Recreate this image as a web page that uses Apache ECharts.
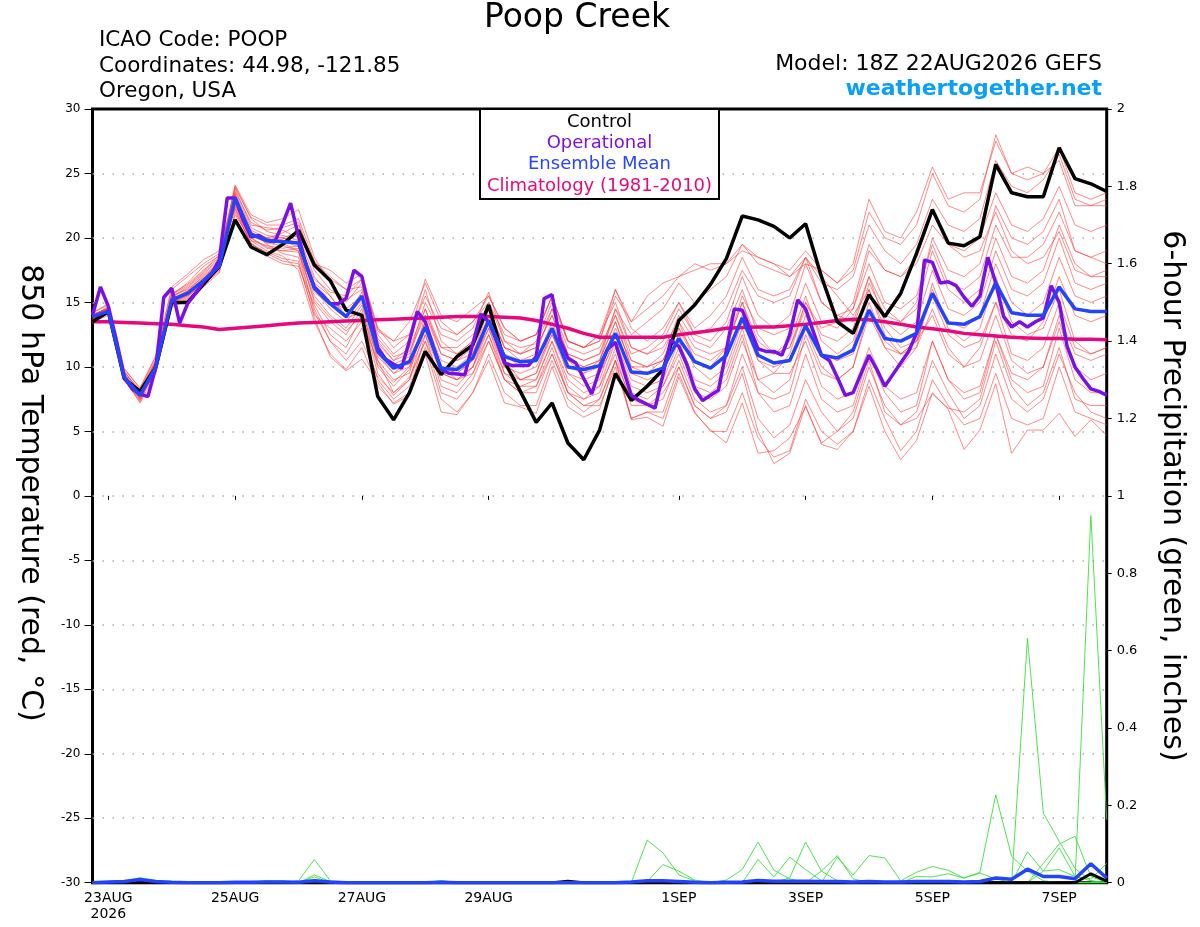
<!DOCTYPE html>
<html><head><meta charset="utf-8">
<script src="https://cdn.jsdelivr.net/npm/echarts@6/dist/echarts.min.js"></script>
<style>html,body{margin:0;padding:0;background:#fff}#c{width:1200px;height:927px}</style>
</head><body><div id="c"></div>
<script>
// ---------- time axis (hours after 18Z 22AUG2026) ----------
const ensStepH = 6;   // ensemble / control / mean / climatology step
const opStepH = 3;    // operational step
const tickHours  = [6, 54, 102, 150, 222, 270, 318, 366];
const tickLabels = ['23AUG\n2026', '25AUG', '27AUG', '29AUG', '1SEP', '3SEP', '5SEP', '7SEP'];

// ---------- 850 hPa temperature (°C) ----------
const control = [13.5,14.3,9.1,8.1,10.0,15.0,15.0,16.4,17.8,21.4,
19.3,18.7,19.5,20.6,17.9,16.7,14.4,14.0,7.7,5.9,
8.0,11.2,9.4,10.8,11.7,14.8,10.4,8.1,5.7,7.2,
4.1,2.8,5.1,9.5,7.4,8.5,9.8,13.6,14.8,16.4,
18.4,21.7,21.4,20.9,20.0,21.1,17.0,13.5,12.6,15.6,
13.9,15.7,18.8,22.2,19.6,19.4,20.1,25.7,23.5,23.2,
23.2,27.0,24.6,24.2,23.6];

const ensMean = [13.9,14.3,9.2,7.8,10.0,15.2,15.7,16.7,17.8,23.1,
20.3,19.8,19.7,19.6,16.1,14.9,13.9,15.5,11.2,9.9,
10.4,13.1,9.9,9.8,10.7,13.6,10.8,10.4,10.5,13.0,
10.0,9.8,10.1,12.6,9.6,9.5,9.9,12.2,10.4,9.9,
10.9,13.8,10.9,10.3,10.5,13.2,10.9,10.7,11.3,14.4,
12.2,12.0,12.6,15.7,13.4,13.3,13.9,16.5,14.2,14.0,
14.0,16.2,14.5,14.3,14.3];

const climatology = [13.5,13.5,13.45,13.4,13.35,13.3,13.2,13.1,12.9,13.0,
13.1,13.2,13.3,13.4,13.45,13.5,13.55,13.6,13.65,13.7,
13.75,13.8,13.85,13.9,13.9,13.9,13.85,13.8,13.6,13.3,
13.0,12.6,12.3,12.3,12.3,12.3,12.3,12.5,12.65,12.8,
13.0,13.05,13.1,13.1,13.2,13.3,13.45,13.6,13.7,13.65,
13.5,13.3,13.1,12.95,12.8,12.6,12.5,12.4,12.3,12.25,
12.2,12.2,12.15,12.15,12.1];

const operational = [14.0,16.2,14.7,12.1,9.2,8.3,7.9,7.7,10.0,15.4,
16.1,13.4,14.9,15.7,16.6,17.2,18.3,23.1,23.1,21.4,
20.1,20.2,19.8,19.7,21.1,22.7,20.1,17.8,16.2,15.6,
14.9,14.9,15.3,17.5,17.0,14.3,11.5,10.6,10.2,9.9,
12.0,14.3,13.5,11.6,9.8,9.5,9.45,9.4,11.8,14.1,
13.5,12.0,10.3,10.1,10.1,10.1,10.8,15.3,15.6,12.1,
10.7,10.3,9.1,7.9,9.8,11.4,11.9,9.8,7.8,7.4,
7.1,6.8,9.4,12.1,11.6,10.2,8.3,7.4,7.8,8.2,
11.3,14.5,14.4,12.9,11.4,11.2,11.2,10.9,12.5,15.2,
14.5,12.7,10.9,10.5,9.2,7.8,8.0,9.5,10.9,9.8,
8.5,9.4,10.3,11.2,12.6,18.3,18.1,16.5,16.6,16.3,
15.4,14.7,15.5,18.5,16.5,13.9,13.1,13.5,13.1,13.5,
13.8,16.3,15.0,11.6,10.0,9.1,8.3,8.1,7.8];

const ens01 = [13.8,14.6,9.5,7.6,10.3,15.5,16.0,17.0,18.0,23.5,20.8,20.2,20.0,20.5,
17.5,16.0,15.2,16.0,12.0,10.5,11.5,
14.5,11.5,11.0,12.0,15.0,12.0,11.5,11.8,14.5,11.5,11.0,11.5,14.0,11.0,11.5,12.5,
15.0,13.0,14.0,15.5,18.5,16.0,15.5,16.0,18.5,16.5,16.0,17.0,21.0,19.0,18.0,19.5,23.0,21.0,20.5,21.5,26.0,24.0,23.5,24.5,26.5,23.0,22.5,23.0];
const ens02 = [14.0,14.2,9.0,7.4,9.8,14.8,15.4,16.5,17.6,22.6,20.0,19.3,19.0,19.2,
15.0,13.5,12.5,14.5,10.0,8.5,9.8,
12.5,8.5,8.0,9.5,12.5,9.0,8.0,8.5,11.5,8.0,7.5,8.5,11.0,7.0,7.0,7.5,
10.5,7.5,6.5,7.0,10.0,6.0,4.5,5.5,9.0,6.5,5.0,6.0,10.0,7.0,5.5,6.5,10.5,8.0,6.0,7.0,11.0,7.5,6.5,7.5,11.0,8.0,6.5,6.0];
const ens03 = [13.7,14.4,9.3,7.9,10.1,15.0,15.8,16.8,18.2,24.0,21.5,20.5,20.2,19.8,
16.5,15.5,14.0,15.8,11.5,10.0,10.2,
13.5,10.5,10.0,11.0,14.0,11.0,10.5,10.5,13.0,10.5,10.0,10.5,13.5,10.0,9.5,10.5,
13.0,11.0,10.5,11.5,15.0,12.0,11.0,11.5,15.0,12.5,12.0,13.0,17.0,14.5,13.5,14.5,19.0,16.0,15.0,16.0,20.0,17.0,16.5,17.5,21.0,18.0,17.0,17.5];
const ens04 = [14.1,14.5,9.4,7.7,10.2,15.3,15.9,16.9,17.9,22.8,20.5,19.5,18.8,18.5,
14.5,12.0,11.0,13.0,9.0,7.5,8.5,
11.5,7.5,6.5,8.0,11.0,8.0,7.0,7.0,10.5,7.5,6.5,7.5,10.5,6.0,6.5,6.0,
9.5,6.5,5.0,5.0,8.0,4.5,3.0,3.5,7.5,5.0,4.0,5.0,9.0,6.0,3.5,5.0,9.0,7.0,5.5,6.0,9.5,6.0,5.5,6.0,10.0,6.5,6.0,5.5];
const ens05 = [13.6,14.3,9.1,7.5,9.9,15.1,15.6,16.6,17.5,22.5,20.2,20.0,20.4,21.0,
18.0,17.5,16.5,17.2,13.0,12.0,13.5,
16.5,13.5,12.5,13.5,15.5,13.0,12.0,12.5,15.5,12.0,11.5,12.0,15.5,13.5,14.5,15.5,
17.0,17.5,18.0,18.0,19.5,18.5,18.0,17.5,19.0,17.5,16.5,17.5,22.0,20.0,19.5,21.0,25.0,22.5,22.0,23.0,28.0,25.0,24.5,25.0,27.0,23.5,23.0,23.5];
const ens06 = [13.9,14.1,9.0,7.3,10.0,15.4,16.2,17.3,18.4,23.8,21.0,20.8,20.6,20.0,
16.0,14.5,13.5,15.0,11.0,9.5,10.0,
13.0,10.0,9.5,10.5,13.5,10.0,9.5,10.0,12.5,9.5,9.0,9.5,12.0,9.0,8.5,9.0,
12.0,9.0,8.5,9.5,13.0,9.0,8.0,9.0,13.0,10.0,9.0,10.0,14.5,11.5,10.0,11.5,16.5,13.0,12.0,13.0,17.0,13.5,12.5,13.0,16.0,12.0,11.0,11.5];
const ens07 = [14.2,14.8,9.6,8.2,10.6,15.6,16.5,17.8,18.6,22.2,19.6,18.8,18.2,18.0,
14.0,13.0,12.0,13.5,10.5,9.0,9.5,
14.0,11.0,10.5,11.5,14.5,11.5,10.5,11.0,14.5,11.0,10.5,11.0,14.5,12.5,13.5,14.5,
16.5,15.0,16.0,17.0,19.5,18.0,17.5,17.0,18.5,17.0,15.5,14.0,16.0,13.0,11.5,12.0,14.0,11.0,10.0,11.5,15.0,12.5,12.0,13.5,17.0,14.0,13.5,14.0];
const ens08 = [13.8,14.4,9.2,7.8,9.7,14.7,15.3,16.3,17.7,23.0,20.4,19.6,19.4,19.0,
15.5,14.0,13.0,14.8,10.5,8.0,9.0,
12.0,9.0,8.5,10.0,13.0,10.0,9.0,9.0,12.0,8.5,7.5,8.0,11.5,8.0,7.5,8.5,
11.0,8.0,7.5,8.5,12.0,9.0,9.5,11.0,15.0,13.0,13.5,15.0,19.5,17.5,17.0,18.5,22.0,19.5,19.0,20.0,23.5,21.0,20.5,21.5,24.0,21.0,20.5,21.0];
const ens09 = [14.0,14.6,9.8,8.4,10.8,16.0,17.0,18.0,18.8,22.4,19.8,19.0,18.6,17.5,
13.5,11.0,9.8,11.5,8.5,7.2,8.0,
12.5,9.5,9.0,10.0,13.5,10.5,9.0,9.5,13.0,9.5,8.5,9.0,12.5,9.5,9.0,9.5,
12.5,10.0,9.0,10.0,13.5,10.5,10.0,10.5,14.0,11.0,10.5,11.0,15.0,12.0,11.0,12.0,16.0,13.5,13.0,14.0,18.0,15.0,14.0,15.0,18.5,15.5,15.0,15.5];
const ens10 = [13.5,14.0,8.9,7.6,9.6,15.0,15.5,16.4,17.4,21.8,19.8,19.4,19.2,19.4,
16.2,15.0,14.5,15.5,11.8,10.5,11.0,
15.0,12.5,12.0,13.0,15.8,12.0,11.0,11.5,14.0,10.5,9.5,10.0,13.0,10.5,10.0,11.0,
14.0,12.0,11.5,13.0,16.0,12.5,11.0,12.0,15.5,12.0,11.0,12.0,16.0,12.5,11.0,11.5,14.5,11.5,10.0,10.5,14.0,10.5,9.5,10.0,13.5,10.0,9.0,9.5];
const ens11 = [14.0,14.5,9.7,8.0,10.4,15.7,16.4,17.5,18.5,24.1,21.8,21.2,21.5,22.2,
18.5,16.5,15.0,16.5,12.5,11.0,12.0,
16.0,12.0,11.0,12.0,14.5,11.5,11.0,12.0,15.0,12.0,11.5,12.5,16.0,13.0,12.0,13.0,
15.0,12.5,12.0,13.5,17.0,14.0,13.0,14.0,18.0,15.0,14.0,14.5,18.0,15.0,14.5,15.5,19.5,16.5,16.0,17.0,21.0,18.5,18.5,19.5,22.0,19.0,18.5,19.0];
const ens12 = [13.7,14.2,9.1,7.2,9.5,14.6,15.2,16.2,17.3,22.0,19.6,18.6,18.0,17.8,
14.8,12.5,11.5,14.0,9.5,7.8,9.0,
13.0,10.0,9.5,10.5,13.0,9.5,8.5,8.5,11.0,8.0,7.0,7.5,10.5,7.5,7.0,8.0,
10.0,7.0,6.0,6.5,9.5,5.0,2.5,3.3,7.0,4.0,3.6,5.0,8.5,5.0,2.8,4.3,8.0,6.7,3.6,5.1,8.7,3.3,5.1,5.1,6.4,4.6,5.9,4.7];
const ens13 = [13.9,14.7,9.3,7.9,10.2,15.2,15.9,17.1,18.1,23.3,20.6,20.0,20.0,19.6,
16.8,15.8,15.5,16.8,12.8,12.0,12.5,
15.5,13.0,12.5,13.5,15.0,12.5,12.0,12.5,15.5,12.0,11.5,12.5,15.0,11.5,11.0,11.5,
13.5,11.5,11.0,11.5,15.5,13.0,12.5,13.0,16.5,13.5,13.0,14.5,19.0,17.5,17.0,18.0,21.0,19.5,18.5,19.0,22.0,19.0,18.0,18.5,20.5,17.5,17.0,17.0];
const ens14 = [13.6,14.1,9.0,7.7,10.0,15.1,15.7,16.7,17.8,23.2,20.3,19.9,19.8,19.3,
15.8,14.8,13.8,14.2,10.8,9.5,10.5,
13.5,10.0,9.0,10.0,12.5,9.5,9.0,9.5,12.5,10.0,9.5,10.5,13.5,10.0,10.0,10.5,
13.0,10.5,10.0,11.0,14.0,10.5,9.5,9.5,12.0,8.5,7.5,8.0,11.5,8.5,7.5,8.0,12.0,9.0,8.0,8.5,12.5,9.5,9.0,10.0,14.0,11.0,10.5,11.0];
const ens15 = [14.1,14.4,9.4,7.6,9.9,15.3,15.8,16.6,17.9,23.4,20.1,19.7,19.9,20.2,
17.0,15.5,13.8,15.2,11.2,10.2,10.8,
14.5,11.0,10.5,11.0,14.5,11.5,11.0,11.5,14.0,11.0,10.5,11.0,14.0,10.5,10.0,10.5,
13.5,10.5,10.0,11.5,15.0,11.5,11.0,11.5,14.5,11.0,10.5,11.5,16.5,14.0,13.5,15.0,20.0,17.5,17.0,18.0,22.5,20.0,19.5,20.5,23.0,19.0,18.5,18.0];
const ens16 = [13.8,14.5,9.6,8.1,10.5,15.4,16.1,17.2,18.3,22.9,20.0,19.2,19.0,18.9,
15.2,13.8,12.8,14.0,10.2,8.8,10.0,
13.0,9.5,9.0,9.5,12.0,9.0,8.0,8.0,11.0,8.0,7.0,7.0,10.0,6.0,6.5,6.5,
10.0,7.0,6.0,7.0,11.0,8.0,7.5,8.0,12.5,9.5,9.0,10.0,14.0,11.5,11.0,12.0,15.5,12.5,11.5,12.0,15.0,11.0,10.5,11.5,15.0,11.5,11.0,11.5];
const ens17 = [13.9,14.3,9.2,7.8,10.1,15.0,15.6,16.8,18.0,23.6,21.2,20.6,20.8,21.2,
17.8,16.8,16.0,16.2,12.2,10.8,11.2,
14.0,11.5,11.5,12.5,14.0,11.0,10.0,10.5,13.5,10.5,10.0,10.5,14.5,11.5,11.0,12.0,
14.5,12.5,13.0,14.5,17.5,15.5,15.0,15.5,18.5,15.0,14.0,13.5,17.0,13.5,12.5,13.5,17.5,14.5,14.0,15.0,19.0,16.0,15.5,16.5,20.0,16.5,16.0,16.5];
const ens18 = [14.0,14.6,9.3,7.5,9.8,14.9,15.5,16.5,17.6,22.7,20.4,20.0,19.6,19.0,
14.2,12.0,10.5,12.0,9.2,8.0,9.2,
12.0,8.0,7.5,9.0,12.0,9.0,8.5,9.0,12.0,9.0,8.0,8.5,12.0,8.5,8.0,8.5,
11.5,8.5,8.0,9.0,12.5,8.0,6.5,7.0,11.0,7.5,6.5,7.0,11.0,8.0,6.5,7.0,12.0,9.0,7.5,8.0,12.5,9.0,8.0,8.5,13.0,9.0,8.0,8.0];
const ens19 = [13.7,14.5,9.5,8.0,10.4,15.6,16.3,17.4,18.7,23.9,21.6,21.0,21.0,21.5,
18.2,17.0,16.0,16.8,13.0,11.5,12.5,
16.8,14.0,13.5,14.5,15.5,13.0,12.0,12.5,15.5,12.0,11.5,12.0,16.0,13.5,15.5,16.5,
17.0,18.0,17.5,18.0,19.0,18.5,18.0,17.0,18.0,17.5,16.5,18.0,23.0,20.5,20.0,22.0,25.5,23.0,23.5,23.5,27.5,25.0,25.5,25.0,26.0,22.5,22.5,22.5];
const ens20 = [14.2,14.9,9.9,8.3,10.9,16.2,17.2,18.3,19.0,22.3,19.5,18.9,18.4,18.2,
13.8,10.8,9.7,10.6,8.8,7.1,7.8,
11.0,6.5,6.3,8.0,10.5,7.2,6.9,6.4,10.0,6.9,6.1,6.7,10.5,5.9,6.1,5.4,
9.2,6.4,5.1,4.1,7.2,3.3,3.5,4.5,6.9,4.1,5.0,6.5,10.5,6.5,5.5,6.0,7.9,6.8,6.5,7.5,12.0,8.5,7.0,8.0,11.5,7.5,7.0,7.0];

// ---------- 6-hour precipitation (inches) ----------
const pcpMean = [0,0.002,0.003,0.008,0.003,0.001,0,0,0,0.001,
0.001,0.002,0.002,0.001,0.005,0.002,0,0,0,0,
0,0,0.001,0,0,0,0,0,0,0,
0,0,0,0,0.002,0.005,0.005,0.003,0.001,0,
0.001,0.002,0.006,0.004,0.004,0.004,0.003,0.003,0.002,0.003,
0.002,0.002,0.003,0.003,0.003,0.002,0.003,0.012,0.009,0.035,
0.016,0.016,0.01,0.049,0.012];
const pcpControl = [0,0,0,0,0,0,0,0,0,0,
0,0,0,0,0,0,0,0,0,0,
0,0,0,0,0,0,0,0,0,0,
0.004,0,0,0,0,0,0,0,0,0,
0,0,0,0,0,0,0,0,0,0,
0,0,0,0,0,0,0,0,0,0,
0,0,0,0.023,0.004];
const pcp01 = [0,0,0,0,0,0,0,0,0,0, 0,0,0,0,0,0,0,0,0,0, 0,0,0,0,0,0,0,0,0,0,
0,0,0,0,0,0.11,0.077,0.02,0.005,0, 0,0,0,0,0,0,0,0,0,0, 0,0,0,0,0,0,0,0,0,0, 0,0,0,0,0];
const pcp02 = [0,0,0,0,0,0,0,0,0,0, 0,0,0,0.005,0.06,0.005,0,0,0,0, 0,0,0,0,0,0,0,0,0,0,
0,0,0,0,0,0.003,0.047,0.03,0.007,0, 0,0,0,0,0,0,0,0,0,0, 0,0,0,0,0,0,0,0,0,0, 0,0,0,0,0];
const pcp03 = [0,0,0,0.01,0.003,0,0,0,0,0, 0,0,0,0,0.02,0.003,0,0,0,0, 0,0,0,0,0,0,0,0,0,0,
0,0,0,0,0,0,0,0,0,0, 0.007,0.034,0.105,0.032,0.01,0,0,0,0,0, 0,0,0,0,0,0,0,0,0,0, 0,0,0,0,0];
const pcp04 = [0,0,0.004,0.013,0.005,0,0,0,0,0, 0,0,0,0,0.015,0,0,0,0,0, 0,0,0,0,0,0,0,0,0,0,
0,0,0,0,0,0,0,0,0,0, 0,0,0.06,0.015,0.066,0.034,0.005,0,0,0, 0,0,0,0,0,0,0,0,0,0, 0,0,0,0,0];
const pcp05 = [0,0,0,0,0,0,0,0,0,0, 0,0.006,0.004,0,0,0,0,0,0,0, 0,0,0.006,0,0,0,0,0,0,0,
0,0,0,0,0,0,0,0,0,0, 0,0,0,0,0.013,0.105,0.03,0.005,0,0, 0,0,0,0,0,0,0,0,0,0, 0,0,0,0,0];
const pcp06 = [0,0,0,0,0,0,0,0,0,0, 0,0,0.005,0,0.008,0,0,0,0,0, 0,0,0,0,0,0,0,0,0,0,
0,0,0,0,0,0,0,0,0,0, 0,0,0,0,0,0,0.03,0.07,0.01,0, 0,0,0,0,0,0,0,0,0,0, 0,0,0,0,0];
const pcp07 = [0,0,0,0,0,0,0,0,0,0, 0,0,0,0,0,0,0,0,0,0, 0,0,0,0,0,0,0,0,0,0,
0,0,0,0,0,0,0,0,0,0, 0,0,0,0,0,0,0,0.066,0.02,0.07, 0.064,0.005,0,0,0,0,0,0,0,0, 0,0,0,0,0];
const pcp08 = [0,0,0,0,0,0,0,0,0,0, 0,0,0,0,0,0,0,0,0,0, 0,0,0,0,0,0,0,0,0,0,
0,0,0,0,0,0,0,0,0,0, 0,0,0,0,0,0,0,0,0,0, 0,0.005,0.027,0.042,0.032,0.012,0.027,0.227,0.068,0.03, 0.005,0,0,0,0];
const pcp09 = [0,0,0,0,0,0,0,0,0,0, 0,0,0,0,0,0,0,0,0,0, 0,0,0,0,0,0,0,0,0,0,
0,0,0,0,0,0,0,0,0,0, 0,0,0,0,0,0,0,0,0,0, 0,0,0.016,0.015,0.023,0.012,0.025,0.01,0,0, 0,0,0,0,0];
const pcp10 = [0,0,0,0,0,0,0,0,0,0, 0,0,0,0,0,0,0,0,0,0, 0,0,0,0,0,0,0,0,0,0,
0,0,0,0,0,0,0,0,0,0, 0,0,0,0,0,0,0,0,0,0, 0,0,0,0,0,0,0,0,0,0.632, 0.18,0.107,0.037,0.005,0];
const pcp11 = [0,0,0,0,0,0,0,0,0,0, 0,0,0,0,0,0,0,0,0,0, 0,0,0,0,0,0,0,0,0,0,
0,0,0,0,0,0,0,0,0,0, 0,0,0,0,0,0,0,0,0,0, 0,0,0,0,0,0,0,0,0,0, 0,0,0,0.949,0.163];
const pcp12 = [0,0,0,0,0,0,0,0,0,0, 0,0,0,0,0,0,0,0,0,0, 0,0,0,0,0,0,0,0,0,0,
0,0,0,0,0,0,0,0,0,0, 0,0,0,0,0,0,0,0,0,0, 0,0,0,0,0,0,0,0,0,0.08, 0.03,0.034,0.016,0.005,0];
const pcp13 = [0,0,0,0,0,0,0,0,0,0, 0,0,0,0,0,0,0,0,0,0, 0,0,0,0,0,0,0,0,0,0,
0,0,0,0,0,0,0,0,0,0, 0,0,0,0,0,0,0,0,0,0, 0,0,0,0,0,0,0,0,0,0, 0.05,0.1,0.12,0.016,0];
const pcp14 = [0,0,0,0,0,0,0,0,0,0, 0,0,0,0,0,0,0,0,0,0, 0,0,0,0,0,0,0,0,0,0,
0,0,0,0,0,0,0,0,0,0, 0,0,0,0,0,0,0,0,0,0, 0,0,0,0,0,0,0,0,0,0, 0.03,0.09,0.016,0.01,0.05];

// ---------- build chart ----------
const ensMembers = [ens01,ens02,ens03,ens04,ens05,ens06,ens07,ens08,ens09,ens10,
                    ens11,ens12,ens13,ens14,ens15,ens16,ens17,ens18,ens19,ens20];
const pcpMembers = [pcp01,pcp02,pcp03,pcp04,pcp05,pcp06,pcp07,pcp08,pcp09,pcp10,pcp11,pcp12,pcp13,pcp14];

function xy(vals, step) { return vals.map((v, i) => [i * step, v]); }

const FONT = 'DejaVu Sans';
function line(data, yIdx, color, width, z, opacity) {
  return { type: 'line', data: data, yAxisIndex: yIdx, symbol: 'none', z: z,
    silent: true, animation: false, emphasis: { disabled: true },
    lineStyle: { color: color, width: width, opacity: opacity == null ? 1 : opacity } };
}

const series = [];
ensMembers.forEach(m => series.push(line(xy(m, ensStepH), 0, '#ff3a3a', 0.8, 2, 0.75)));
pcpMembers.forEach(m => series.push(line(xy(m, ensStepH), 1, '#33dd33', 0.9, 3, 0.95)));
series.push(line(xy(climatology, ensStepH), 0, '#e8087e', 3.5, 4));
series.push(line(xy(control, ensStepH), 0, '#000000', 3.5, 5));
series.push(line(xy(operational, opStepH), 0, '#7a10e6', 3.5, 6));
series.push(line(xy(ensMean, ensStepH), 0, '#2244ff', 3.5, 7));
series.push(line(xy(pcpControl, ensStepH), 1, '#000000', 3, 8));
series.push(line(xy(pcpMean, ensStepH), 1, '#2244ff', 3.5, 9));

function txt(text, x, y, size, color, align, opts, weight) {
  return Object.assign({ type: 'text', x: x, y: y, z: 100, silent: true,
    style: { text: text, fill: color, font: (weight ? weight + ' ' : '') + size + 'px "' + FONT + '"',
      align: align, textAlign: align, verticalAlign: 'middle', textVerticalAlign: 'middle' } }, opts || {});
}

const chart = echarts.init(document.getElementById('c'), null, { renderer: 'canvas' });
chart.setOption({
  animation: false,
  backgroundColor: '#ffffff',
  grid: { left: 92.5, right: 93.3, top: 109, bottom: 44.3, show: true,
          borderColor: '#000', borderWidth: 3, backgroundColor: 'transparent' },
  xAxis: {
    type: 'value', min: 0, max: 384,
    axisLine: { show: false },
    splitLine: { show: false },
    axisTick: { show: true, customValues: tickHours, length: 4, lineStyle: { color: '#000', width: 1 } },
    axisLabel: { customValues: tickHours, color: '#000', fontFamily: FONT, fontSize: 14,
      lineHeight: 16, margin: 8,
      formatter: v => tickLabels[tickHours.indexOf(v)] || '' }
  },
  yAxis: [
    { type: 'value', min: -30, max: 30, interval: 5, position: 'left',
      axisLine: { show: false },
      axisTick: { show: true, length: 8, lineStyle: { color: '#000', width: 1 } },
      axisLabel: { color: '#000', fontFamily: FONT, fontSize: 12, margin: 12 },
      splitLine: { show: true, showMinLine: false, showMaxLine: false,
        lineStyle: { color: '#aaaaaa', width: 1.5, type: [1.5, 8.5] } } },
    { type: 'value', min: 0, max: 2, interval: 0.2, position: 'right',
      axisLine: { show: false },
      axisTick: { show: true, length: 5, lineStyle: { color: '#000', width: 1 } },
      axisLabel: { color: '#000', fontFamily: FONT, fontSize: 13, margin: 10,
        formatter: v => String(Math.round(v * 10) / 10) },
      splitLine: { show: false } }
  ],
  series: series,
  graphic: [
    txt('Poop Creek', 577, 18, 33, '#000', 'center'),
    txt('ICAO Code: POOP', 99, 40, 21.5, '#000', 'left'),
    txt('Coordinates: 44.98, -121.85', 99, 66, 21.5, '#000', 'left'),
    txt('Oregon, USA', 99, 91, 21.5, '#000', 'left'),
    txt('Model: 18Z 22AUG2026 GEFS', 1102, 64, 22, '#000', 'right'),
    txt('weathertogether.net', 1102, 89, 22, '#0aa0f8', 'right', null, 'bold'),
    { type: 'rect', z: 99, silent: true, shape: { x: 480, y: 109, width: 239, height: 90 },
      style: { fill: '#fff', stroke: '#000', lineWidth: 2 } },
    txt('Control', 599.5, 122, 18, '#000', 'center'),
    txt('Operational', 599.5, 143, 18, '#8010e0', 'center'),
    txt('Ensemble Mean', 599.5, 164, 18, '#2a45ff', 'center'),
    txt('Climatology (1981-2010)', 599.5, 186, 18, '#e8087e', 'center'),
    txt('850 hPa Temperature (red, °C)', 30, 493, 30, '#000', 'center', { rotation: -Math.PI / 2 }),
    txt('6-hour Precipitation (green, inches)', 1172, 496, 30, '#000', 'center', { rotation: -Math.PI / 2 })
  ]
});
</script>
</body></html>
